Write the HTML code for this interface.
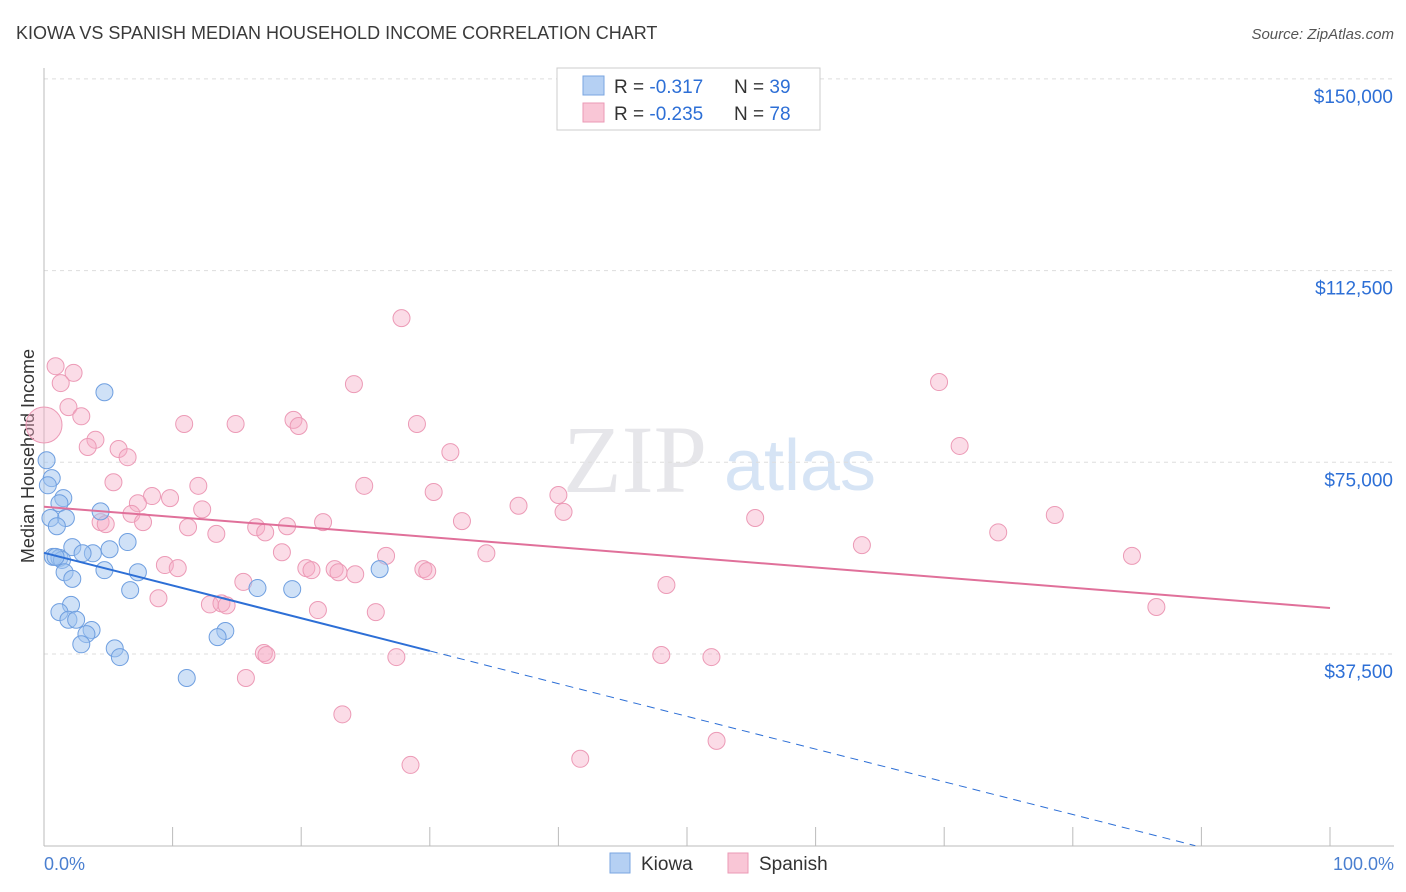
<!DOCTYPE html>
<html><head><meta charset="utf-8">
<style>
body{margin:0;background:#fff;font-family:"Liberation Sans",sans-serif;}
#wrap{position:relative;width:1406px;height:892px;overflow:hidden;}
</style></head>
<body>
<div id="wrap">
<svg id="svg" width="1406" height="892" xmlns="http://www.w3.org/2000/svg">
<text x="16" y="39" font-size="18" fill="#3a3a3a">KIOWA VS SPANISH MEDIAN HOUSEHOLD INCOME CORRELATION CHART</text>
<text x="1394" y="39" font-size="15" font-style="italic" fill="#555" text-anchor="end">Source: ZipAtlas.com</text>
<text x="635" y="492" font-size="96" fill="#e6e6ea" font-family="Liberation Serif,serif" text-anchor="middle">ZIP</text>
<text x="800" y="490" font-size="72" fill="#d6e4f5" text-anchor="middle">atlas</text>
<text transform="translate(34,456) rotate(-90)" font-size="18" fill="#333" text-anchor="middle">Median Household Income</text>
<text x="44" y="870" font-size="18" fill="#4a7fd0">0.0%</text>
<text x="1394" y="870" font-size="18" fill="#4a7fd0" text-anchor="end">100.0%</text>
<g id="grid"></g><g id="pts"></g><g id="lines"></g>
<g>
<rect x="557" y="68" width="263" height="62" fill="#fff" stroke="#ccc"/>
<rect x="583" y="76" width="21" height="19" fill="#b5d0f3" stroke="#7aa6e0"/>
<rect x="583" y="103" width="21" height="19" fill="#f9c6d6" stroke="#eb9ab6"/>
<text x="614" y="93" font-size="19" fill="#333">R = <tspan fill="#2d6fd6">-0.317</tspan><tspan x="734">N = </tspan><tspan fill="#2d6fd6">39</tspan></text>
<text x="614" y="120" font-size="19" fill="#333">R = <tspan fill="#2d6fd6">-0.235</tspan><tspan x="734">N = </tspan><tspan fill="#2d6fd6">78</tspan></text>
</g>
<g>
<rect x="610" y="853" width="20" height="20" fill="#b5d0f3" stroke="#7aa6e0"/>
<text x="641" y="870" font-size="19" fill="#333">Kiowa</text>
<rect x="728" y="853" width="20" height="20" fill="#f9c6d6" stroke="#eb9ab6"/>
<text x="759" y="870" font-size="19" fill="#333">Spanish</text>
</g>
</svg></div>
<script>
const yTicks=[37.5,75,112.5,150];
const yTickLabels=["$37,500","$75,000","$112,500","$150,000"];
const kiowaX=[4.7,0.2,0.6,0.3,1.5,1.2,4.4,1.7,0.5,1.0,6.5,2.2,5.1,3.8,3.0,0.7,1.2,1.4,4.7,7.3,1.6,26.1,2.2,6.7,16.6,19.3,2.1,1.2,1.9,2.5,3.7,3.3,14.1,13.5,2.9,5.5,5.9,11.1,0.9];
const kiowaY=[88.7,75.4,71.9,70.5,68.0,67.0,65.4,64.1,64.1,62.5,59.4,58.4,58.0,57.2,57.2,56.5,56.3,55.9,53.9,53.5,53.5,54.1,52.2,50.0,50.4,50.2,47.1,45.7,44.2,44.2,42.2,41.4,42.0,40.8,39.4,38.6,36.9,32.8,56.5];
const spanX=[0,0.9,2.3,1.3,1.9,2.9,4.0,3.4,5.8,6.5,27.8,24.1,69.6,10.9,14.9,19.4,19.8,29.0,31.6,71.2,5.4,12.0,24.9,30.3,8.4,9.8,40.0,7.3,12.3,36.9,40.4,6.8,78.6,55.3,7.7,4.4,4.8,21.7,32.5,11.2,16.5,18.9,17.2,13.4,74.2,63.6,18.5,34.4,26.6,84.6,9.4,10.4,20.4,20.8,22.6,22.9,24.2,29.5,29.8,15.5,48.4,8.9,12.9,13.8,14.2,21.3,25.8,86.5,17.1,17.3,27.4,48.0,51.9,15.7,23.2,52.3,41.7,28.5];
const spanY=[82.3,93.8,92.5,90.5,85.8,84.0,79.4,78.0,77.6,76.0,103.2,90.3,90.7,82.5,82.5,83.3,82.1,82.5,77.0,78.2,71.1,70.4,70.4,69.2,68.4,68.0,68.6,67.0,65.8,66.5,65.3,64.9,64.7,64.1,63.3,63.3,62.9,63.3,63.5,62.3,62.3,62.5,61.3,61.0,61.3,58.8,57.4,57.2,56.7,56.7,54.9,54.3,54.3,53.9,54.1,53.5,53.1,54.1,53.7,51.6,51.0,48.4,47.2,47.4,47.0,46.1,45.7,46.7,37.7,37.3,36.9,37.3,36.9,32.8,25.7,20.5,17.0,15.8];
const kiowaTrend=[57.3,38.1]; // values at 0% and 30%
const spanTrend=[66.3,46.5]; // values at 0% and 100%
const X=p=>44+p*12.86, Y=v=>845.7-v*5.112;
const NS="http://www.w3.org/2000/svg";
function mk(t,a,parent){const e=document.createElementNS(NS,t);for(const k in a)e.setAttribute(k,a[k]);document.getElementById(parent).appendChild(e);return e;}
yTicks.forEach((t,i)=>{
 const l=mk('line',{x1:44,x2:1394,y1:Y(t),y2:Y(t),stroke:'#ddd','stroke-dasharray':'4,4'},'grid');
 
 
 const tx=mk('text',{x:1393,y:Y(t)+24,'font-size':19,fill:'#2d6fd6','text-anchor':'end'},'grid');
 tx.textContent=yTickLabels[i];
 
 
});
mk('line',{x1:44,x2:44,y1:68,y2:846,stroke:'#bbb'},'grid');
mk('line',{x1:44,x2:1394,y1:846,y2:846,stroke:'#bbb'},'grid');
for(let i=0;i<=10;i++){const l=mk('line',{x1:X(i*10),x2:X(i*10),y1:827,y2:846,stroke:'#bbb'},'grid');
 
 }
spanX.forEach((x,i)=>{const c=mk('circle',{cx:X(x),cy:Y(spanY[i]),r:i==0?18:8.5,fill:'rgba(246,172,198,0.42)',stroke:'#ec9ab6','stroke-width':1},'pts');
 
 });
kiowaX.forEach((x,i)=>{const c=mk('circle',{cx:X(x),cy:Y(kiowaY[i]),r:8.5,fill:'rgba(160,196,240,0.5)',stroke:'#6f9fe0','stroke-width':1},'pts');
 
 });
const ks=(kiowaTrend[1]-kiowaTrend[0])/30;
const k0=mk('line',{x1:X(0),y1:Y(kiowaTrend[0]),x2:X(30),y2:Y(kiowaTrend[1]),stroke:'#2d6fd6','stroke-width':2},'lines');


const xz=Math.min(100,-kiowaTrend[0]/ks);
const k1=mk('line',{x1:X(30),y1:Y(kiowaTrend[1]),x2:X(xz),y2:Y(kiowaTrend[0]+ks*xz),stroke:'#2d6fd6','stroke-width':1,'stroke-dasharray':'8,6'},'lines');


const s0=mk('line',{x1:X(0),y1:Y(spanTrend[0]),x2:X(100),y2:Y(spanTrend[1]),stroke:'#e0709a','stroke-width':2},'lines');


</script>
</body></html>
